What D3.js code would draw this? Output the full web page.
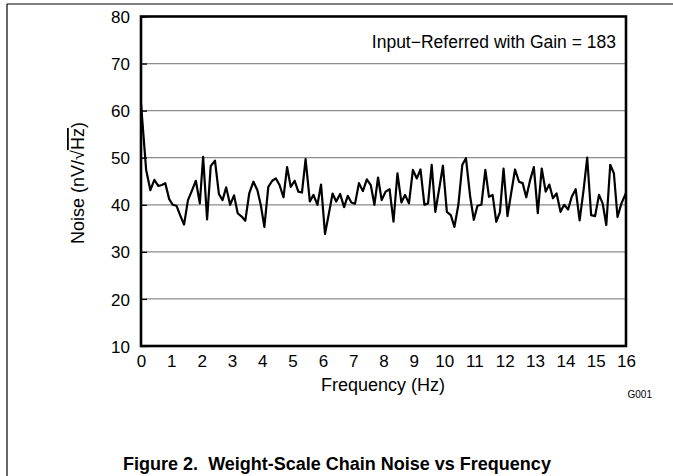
<!DOCTYPE html>
<html><head><meta charset="utf-8">
<script src="https://cdn.jsdelivr.net/npm/d3@7"></script>
<style>body{margin:0;background:#fff;} svg{display:block;font-family:"Liberation Sans",Arial,sans-serif;}</style>
</head><body>
<svg id="c" width="673" height="476"></svg>
<script>
const freq = [0.0,0.17,0.31,0.44,0.57,0.69,0.80,0.93,1.05,1.17,1.29,1.42,1.55,1.68,1.81,1.94,2.05,2.18,2.30,2.44,2.57,2.69,2.81,2.94,3.07,3.19,3.32,3.44,3.57,3.71,3.84,3.95,4.07,4.20,4.33,4.45,4.57,4.70,4.82,4.94,5.07,5.19,5.31,5.43,5.57,5.69,5.82,5.94,6.07,6.20,6.32,6.44,6.57,6.70,6.82,6.94,7.06,7.19,7.32,7.45,7.58,7.70,7.82,7.94,8.07,8.20,8.33,8.46,8.59,8.71,8.84,8.97,9.10,9.22,9.35,9.47,9.59,9.71,9.84,9.96,10.09,10.22,10.34,10.47,10.60,10.72,10.86,10.98,11.10,11.23,11.36,11.48,11.60,11.72,11.84,11.96,12.09,12.21,12.34,12.47,12.59,12.71,12.84,12.96,13.09,13.22,13.35,13.47,13.59,13.71,13.84,13.96,14.09,14.21,14.34,14.47,14.60,14.72,14.85,14.98,15.11,15.23,15.35,15.48,15.60,15.72,15.85,16.0];
const noise = [61.5,47.4,43.1,45.3,44.0,44.2,44.6,41.2,40.0,39.8,37.8,35.8,41.0,43.0,45.1,40.3,50.2,36.9,48.2,49.4,42.3,41.0,43.7,40.0,42.0,38.2,37.5,36.6,42.4,44.9,43.1,40.0,35.3,43.8,45.1,45.6,44.2,41.6,48.0,43.8,45.1,42.8,42.6,49.7,40.7,42.1,40.0,44.3,33.8,38.2,42.4,40.7,42.3,39.5,41.9,40.5,40.2,44.6,42.9,45.4,44.2,40.0,45.8,41.0,42.8,43.3,36.4,46.7,40.5,42.1,40.3,47.4,45.6,47.5,40.0,40.3,48.5,38.5,43.5,48.3,38.5,37.8,35.3,40.0,48.5,49.9,41.7,36.8,39.8,40.0,47.4,41.7,42.1,36.4,38.4,47.7,37.6,42.4,47.5,44.9,44.6,41.6,45.3,48.0,38.2,47.7,42.8,44.3,41.4,42.4,38.5,40.0,39.0,41.7,43.3,36.7,43.1,50.0,37.8,37.6,42.1,40.3,35.7,48.5,46.7,37.4,40.3,42.5];
const xTicks = [0,1,2,3,4,5,6,7,8,9,10,11,12,13,14,15,16];
const yTicks = [10,20,30,40,50,60,70,80];
const gridValues = [20,30,40,50,60,70];
const xTitle = "Frequency (Hz)";
const annotation = "Input\u2212Referred with Gain = 183";
const caption = "Figure 2.\u00A0\u00A0Weight-Scale Chain Noise vs Frequency";
const graphId = "G001";

const svg = d3.select("#c");
const L = 141, R = 626, T = 16.5, B = 346;
const x = d3.scaleLinear().domain([0,16]).range([L,R]);
const y = d3.scaleLinear().domain([10,80]).range([B,T]);

svg.append("line").attr("x1",7).attr("x2",673).attr("y1",4).attr("y2",4).attr("stroke","#000").attr("stroke-width",1.2);
svg.append("line").attr("x1",7).attr("x2",7).attr("y1",4).attr("y2",476).attr("stroke","#000").attr("stroke-width",1.2);

svg.append("g").selectAll("line").data(gridValues).join("line")
  .attr("x1",L).attr("x2",R).attr("y1",d=>y(d)).attr("y2",d=>y(d))
  .attr("stroke","#8c8c8c").attr("stroke-width",1.3);

const yAxis = d3.axisLeft(y).tickValues(yTicks).tickSize(-6).tickPadding(11).tickFormat(d3.format("d"));
const gy = svg.append("g").attr("transform",`translate(${L},0)`).call(yAxis);
gy.select(".domain").remove();
gy.selectAll("line").attr("stroke","#000").attr("stroke-width",1.3);
gy.selectAll("text").attr("font-size",17).attr("fill","#000").attr("font-family","Liberation Sans, Arial, sans-serif").attr("dy","0.36em");

const xAxis = d3.axisBottom(x).tickValues(xTicks).tickSize(0).tickPadding(9).tickFormat(d3.format("d"));
const gx = svg.append("g").attr("transform",`translate(0,${B})`).call(xAxis);
gx.select(".domain").remove();
gx.selectAll("text").attr("font-size",17).attr("fill","#000").attr("font-family","Liberation Sans, Arial, sans-serif");

const line = d3.line().x((d,i)=>x(freq[i])).y(d=>y(d));
svg.append("path").datum(noise).attr("d",line).attr("fill","none").attr("stroke","#000").attr("stroke-width",2.2).attr("stroke-linejoin","round");

svg.append("rect").attr("x",L).attr("y",T).attr("width",R-L).attr("height",B-T)
  .attr("fill","none").attr("stroke","#000").attr("stroke-width",2.6);

svg.append("text").attr("x",616).attr("y",48).attr("text-anchor","end").attr("font-size",17.5).text(annotation);

svg.append("text").attr("x",383).attr("y",391).attr("text-anchor","middle").attr("font-size",18).text(xTitle);
const yt = svg.append("text").attr("transform","translate(84,183) rotate(-90)").attr("text-anchor","middle").attr("font-size",18);
yt.append("tspan").text("Noise (nV/\u221A");
yt.append("tspan").style("text-decoration","overline").text("Hz");
yt.append("tspan").text(")");

svg.append("text").attr("x",652).attr("y",398).attr("text-anchor","end").attr("font-size",10).text(graphId);

svg.append("text").attr("x",337).attr("y",470).attr("text-anchor","middle").attr("font-size",18).attr("font-weight","bold").text(caption);
</script>
</body></html>
